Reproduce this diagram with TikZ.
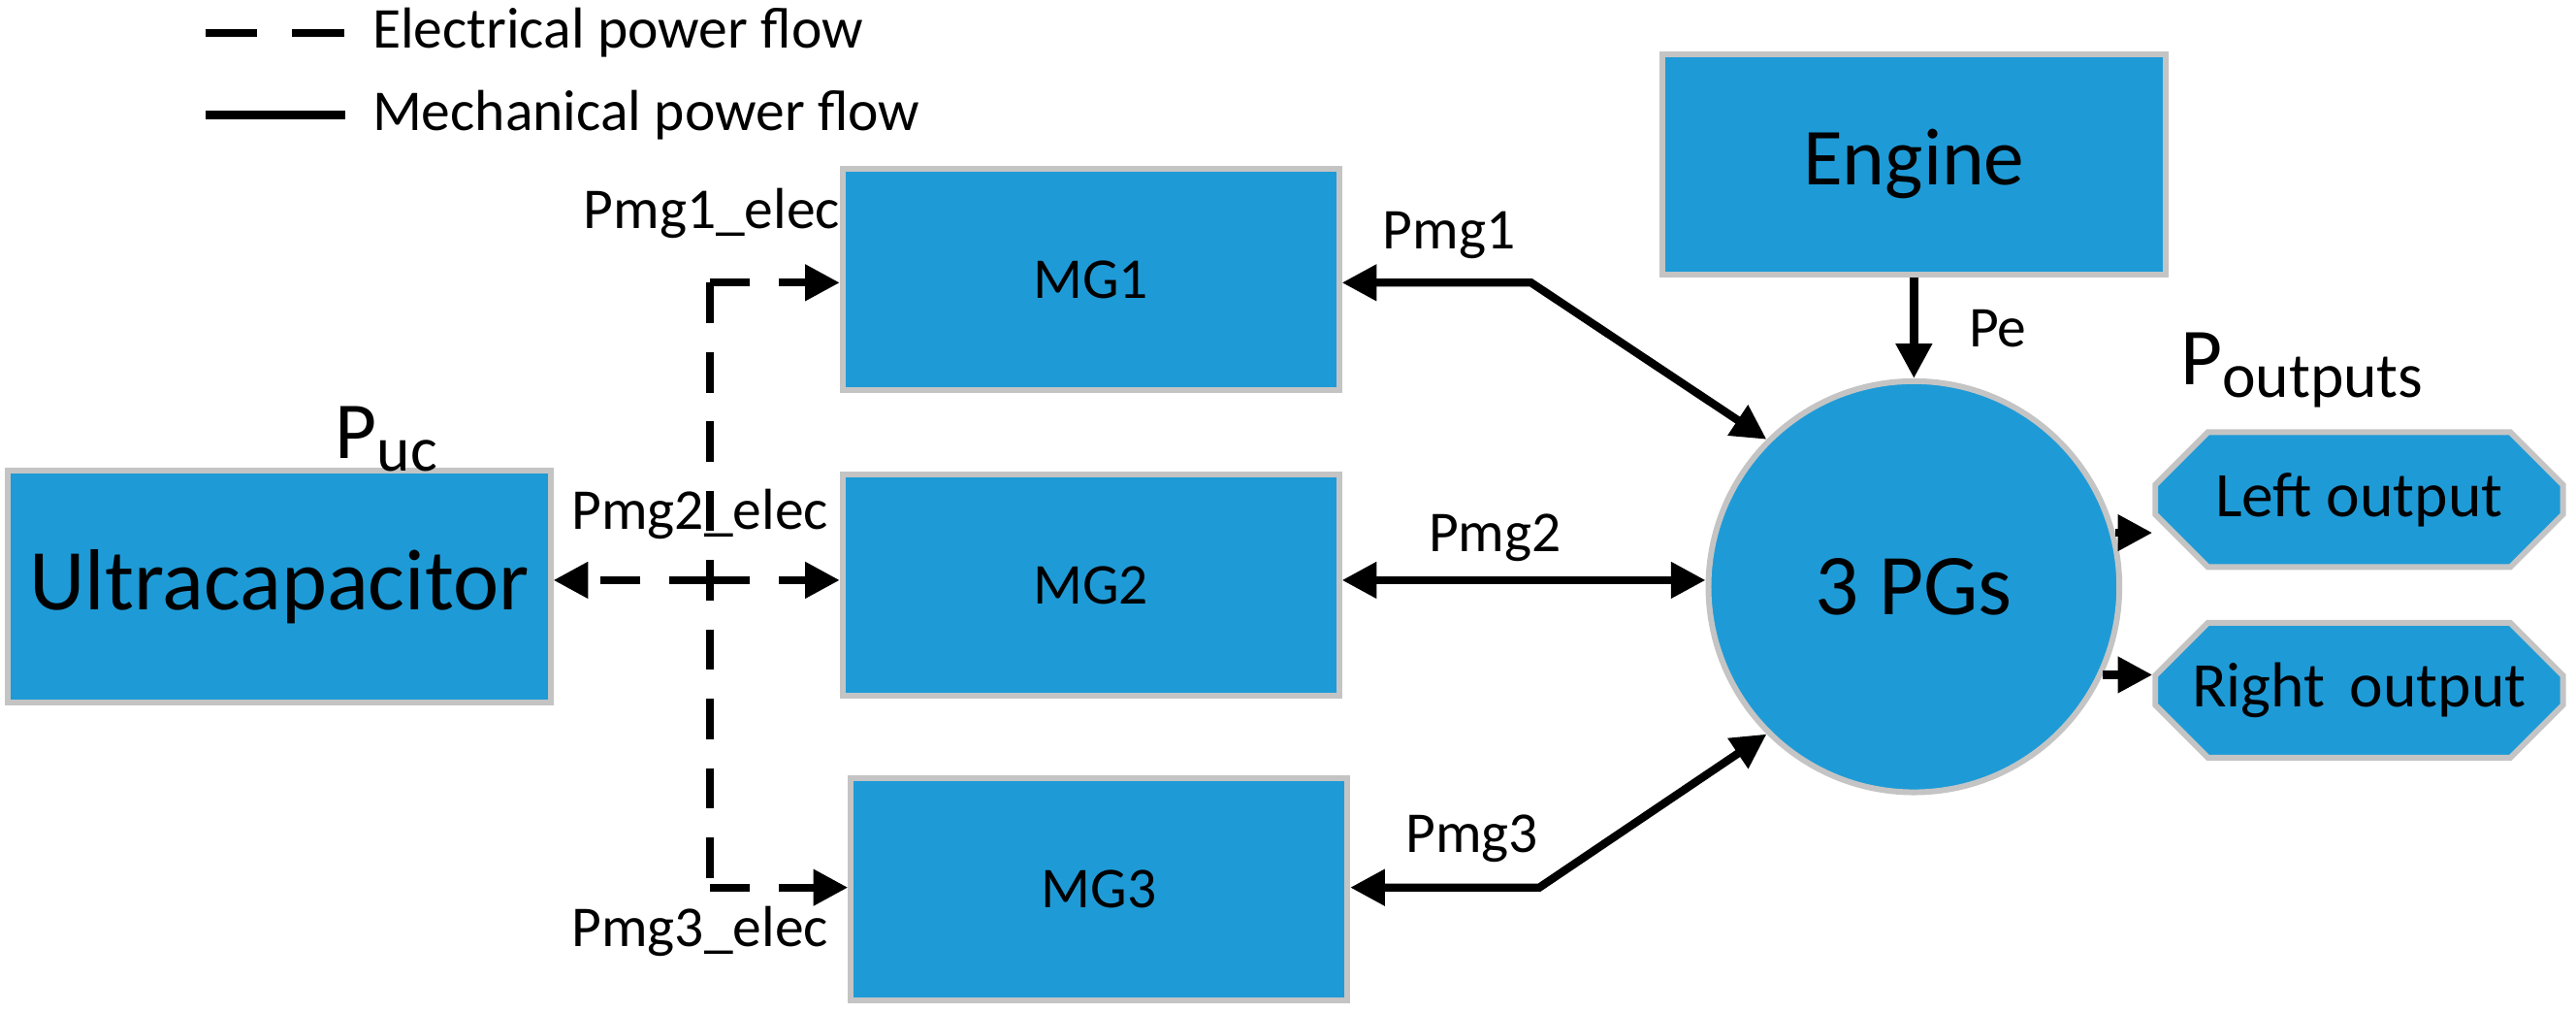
\documentclass[tikz,border=0pt]{standalone}
\usepackage{fontspec}
\setmainfont{Carlito}
\usetikzlibrary{shapes.geometric,shapes.misc,arrows.meta}
\definecolor{blk}{HTML}{1E9BD7}
\definecolor{brd}{HTML}{C4C4C4}
\begin{document}
\begin{tikzpicture}[x=0.01cm,y=-0.01cm,
 box/.style={draw=brd,line width=1pt,fill=blk,minimum width=3.02cm,minimum height=1.35cm,inner sep=0pt},
 lab/.style={font=\fontsize{10}{12}\selectfont,inner sep=0pt},
 el/.style={line width=1.4pt,dash pattern=on 7pt off 5pt},
 me/.style={line width=1.4pt},
 arr/.style={-{Triangle[length=6pt,width=6pt]}},
 darr/.style={{Triangle[length=6pt,width=6pt]}-{Triangle[length=6pt,width=6pt]}}]
\useasboundingbox (0,0) rectangle (1568,616);
% legend
\coordinate (l1a) at (125,20); \coordinate (l1b) at (210,20);
\coordinate (l2a) at (125,70); \coordinate (l2b) at (210,70);
\draw[el,dash pattern=on 9pt off 6pt] (l1a) -- (l1b);
\draw[me] (l2a) -- (l2b);
\node[lab,anchor=west] (t1) at (226,20) {Electrical power flow};
\node[lab,anchor=west] (t2) at (226,70) {Mechanical power flow};
% nodes
\node[box,minimum width=3.3cm,minimum height=1.41cm,font=\fontsize{15}{18}\selectfont] (uc) at (170,357) {Ultracapacitor};
\node[font=\fontsize{14}{16}\selectfont,inner sep=0pt] (puc) at (236,267) {P\textsubscript{\fontsize{11}{12}\selectfont uc}};
\node[box,font=\fontsize{10}{12}\selectfont] (mg1) at (664,170) {MG1};
\node[box,font=\fontsize{10}{12}\selectfont] (mg2) at (664,356) {MG2};
\node[box,font=\fontsize{10}{12}\selectfont] (mg3) at (669,541) {MG3};
\node[box,minimum width=3.06cm,minimum height=1.34cm,font=\fontsize{14}{16}\selectfont] (eng) at (1165,100) {Engine};
\node[circle,draw=brd,line width=1pt,fill=blk,minimum size=2.5cm,inner sep=0pt,font=\fontsize{15}{18}\selectfont] (pg) at (1165,357) {3 PGs};
\node[box,minimum width=2.48cm,minimum height=0.82cm,chamfered rectangle,chamfered rectangle xsep=0.12cm,chamfered rectangle ysep=0.2cm,font=\fontsize{11}{13}\selectfont] (lo) at (1436,304) {Left output};
\node[box,minimum width=2.48cm,minimum height=0.82cm,chamfered rectangle,chamfered rectangle xsep=0.12cm,chamfered rectangle ysep=0.2cm,font=\fontsize{11}{13}\selectfont] (ro) at (1436,420) {Right\, output};
\node[font=\fontsize{14}{16}\selectfont,inner sep=0pt] (pout) at (1402,225) {P\textsubscript{\fontsize{11}{12}\selectfont outputs}};
% electrical
\coordinate (j1) at (432,172);
\coordinate (j2) at (432,353);
\coordinate (j3) at (432,540);
\draw[el] (j1) -- (j3);
\draw[el,arr] (j1) -- (mg1.west|-j1);
\draw[el,arr] (j2) -- (mg2.west|-j2);
\draw[el,arr] (j2) -- (uc.east|-j2);
\draw[el,arr] (j3) -- (mg3.west|-j3);
\node[lab,anchor=east] (e1) at (512,130) {Pmg1\_elec};
\node[lab] (e2) at (426,313) {Pmg2\_elec};
\node[lab] (e3) at (426,567) {Pmg3\_elec};
% mechanical
\coordinate (b1) at (932,172);
\coordinate (b3) at (937,540);
\draw[me,darr] (mg1.east|-b1) -- (b1) -- (pg.135);
\draw[me,darr] (mg2.east|-j2) -- (pg.west|-j2);
\draw[me,darr] (mg3.east|-b3) -- (b3) -- (pg.-135);
\draw[me,arr] (eng.south) -- (pg.north);
\draw[me,arr] (pg.15) -- (lo.west|-pg.15);
\draw[me,arr] (pg.-25) -- (ro.west|-pg.-25);
\node[lab] (m1) at (882,143) {Pmg1};
\node[lab] (m2) at (910,327) {Pmg2};
\node[lab] (m3) at (896,510) {Pmg3};
\node[lab] (pe) at (1216,200) {Pe};
\end{tikzpicture}
\end{document}
